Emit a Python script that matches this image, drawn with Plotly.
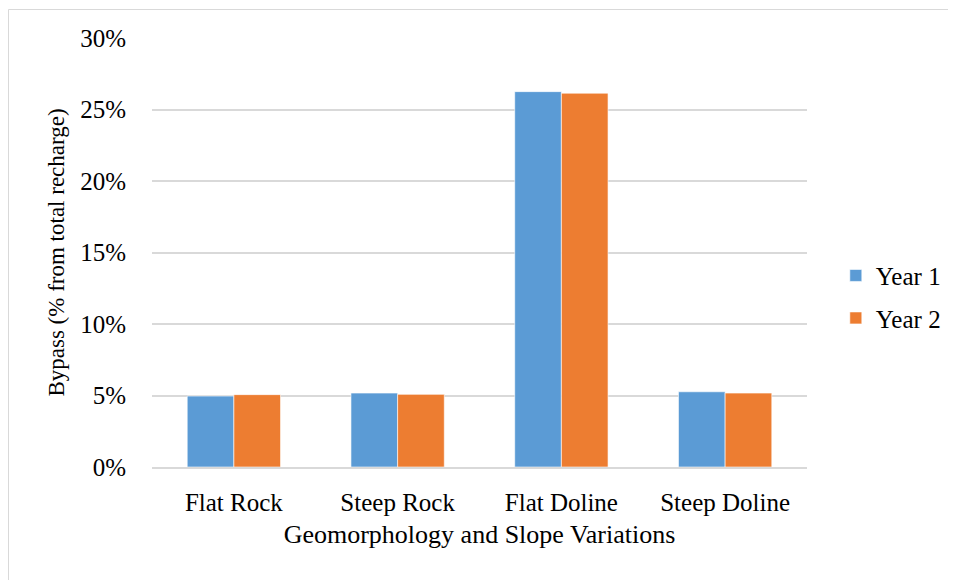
import plotly.graph_objects as go

categories = ["Flat Rock", "Steep Rock", "Flat Doline", "Steep Doline"]
year1 = [0.0496, 0.0517, 0.2625, 0.0526]
year2 = [0.0506, 0.0508, 0.2614, 0.0517]
series_names = ["Year 1", "Year 2"]
tick_vals = [0, 0.05, 0.10, 0.15, 0.20, 0.25, 0.30]
tick_text = ["0%", "5%", "10%", "15%", "20%", "25%", "30%"]

FONT = "Liberation Serif, Times New Roman, serif"
colors = ["#5B9BD5", "#ED7D31"]

W, H = 948, 572
L, T, PW, PH = 144, 30, 655, 429

fig = go.Figure()
for i, (name, vals) in enumerate(zip(series_names, [year1, year2])):
    fig.add_trace(go.Bar(
        x=categories, y=vals, name=name,
        marker=dict(color=colors[i], line=dict(color="rgba(255,255,255,0.6)", width=1)),
        legendgroup=name,
    ))

fig.update_layout(
    width=W, height=H,
    margin=dict(l=L, r=W - L - PW, t=T, b=H - T - PH, autoexpand=False),
    paper_bgcolor="white", plot_bgcolor="white",
    barmode="group", bargap=0.43, bargroupgap=0,
    font=dict(family=FONT, size=25, color="black"),
    showlegend=True,
    legend=dict(x=1.044, xanchor="left", y=0.397, yanchor="middle",
                font=dict(family=FONT, size=25, color="black"),
                traceorder="grouped", tracegroupgap=7,
                itemwidth=30, bgcolor="rgba(0,0,0,0)"),
    xaxis=dict(
        showgrid=False, showline=True, linecolor="#d9d9d9", linewidth=2,
        ticks="", ticklabelstandoff=12,
        tickfont=dict(family=FONT, size=25, color="black"),
        title=dict(text="Geomorphology and Slope Variations", standoff=10,
                   font=dict(family=FONT, size=26, color="black")),
    ),
    yaxis=dict(
        range=[0, 0.30], tickvals=tick_vals, ticktext=tick_text,
        showgrid=True, gridcolor="#d9d9d9", gridwidth=2,
        zeroline=False, showline=False, ticks="", ticklabelstandoff=25,
        tickfont=dict(family=FONT, size=25, color="black"),
        title=dict(text="Bypass (% from total recharge)", standoff=9,
                   font=dict(family=FONT, size=23, color="black")),
    ),
    shapes=[dict(type="rect", xref="paper", yref="paper",
                 x0=(0.5 - L) / PW, x1=1.5,
                 y0=-0.5, y1=1 + (T - 1.5) / PH,
                 line=dict(color="#d9d9d9", width=1), fillcolor="rgba(0,0,0,0)",
                 layer="below")],
)

fig.write_html("out.html")
